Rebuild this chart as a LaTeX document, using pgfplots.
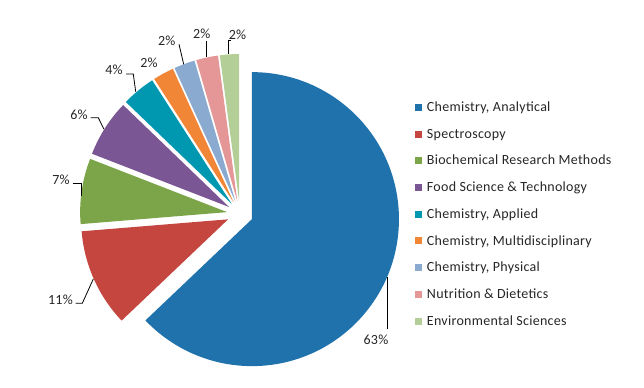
\documentclass[border=0pt]{standalone}
\usepackage{fontspec}
\setmainfont{Carlito}[LetterSpace=2]
\usepackage{pgfplots}
\pgfplotsset{compat=1.18}
\usepackage{pgfplotstable}

\definecolor{slice0}{HTML}{1F72AB}
\definecolor{slice1}{HTML}{C4463F}
\definecolor{slice2}{HTML}{7BA548}
\definecolor{slice3}{HTML}{7B5694}
\definecolor{slice4}{HTML}{0098B1}
\definecolor{slice5}{HTML}{F28637}
\definecolor{slice6}{HTML}{8AAACF}
\definecolor{slice7}{HTML}{E59696}
\definecolor{slice8}{HTML}{B3CE96}
\definecolor{txt}{HTML}{262626}

% share (percent), label position (pixels)
\pgfplotstableread[col sep=semicolon]{
name;value;lx;ly
Chemistry, Analytical;62.9;376;340
Spectroscopy;10.8;60.5;300
Biochemical Research Methods;7.2;61;180
Food Science \& Technology;6.3;79;115
Chemistry, Applied;3.7;114;69.5
Chemistry, Multidisciplinary;2.3;149;62.5
Chemistry, Physical;2.3;166.7;41
Nutrition \& Dietetics;2.4;201.7;33.5
Environmental Sciences;2.1;237.5;35
}\piedata

\newcommand\PieR{147}
\newcommand\PieD{13}
\newcommand\PieCx{240}
\newcommand\PieCy{214}

\begin{document}%
\begin{tikzpicture}
\gdef\total{0}
\foreach \i in {0,...,8}{%
  \pgfplotstablegetelem{\i}{value}\of\piedata
  \pgfmathsetmacro\t{\total+\pgfplotsretval}\xdef\total{\t}}
\gdef\cum{0}
\foreach \i in {0,...,8}{%
  \pgfplotstablegetelem{\i}{value}\of\piedata
  \pgfmathtruncatemacro\pct{round(\pgfplotsretval/\total*100)}
  \pgfmathsetmacro\ta{\cum/\total*360}
  \pgfmathsetmacro\newcum{\cum+\pgfplotsretval}
  \pgfmathsetmacro\tb{\newcum/\total*360}
  \pgfmathsetmacro\tm{(\ta+\tb)/2}
  \pgfmathsetmacro\ax{\PieCx+\PieD*sin(\tm)}
  \pgfmathsetmacro\ay{\PieCy-\PieD*cos(\tm)}
  \pgfmathsetmacro\sx{\ax+\PieR*sin(\ta)}
  \pgfmathsetmacro\sy{\ay-\PieR*cos(\ta)}
  \pgfmathsetmacro\pa{90-\ta}
  \pgfmathsetmacro\pb{90-\tb}
  \expandafter\xdef\csname ax\i\endcsname{\ax}%
  \expandafter\xdef\csname ay\i\endcsname{\ay}%
  \expandafter\xdef\csname sx\i\endcsname{\sx}%
  \expandafter\xdef\csname sy\i\endcsname{\sy}%
  \expandafter\xdef\csname pa\i\endcsname{\pa}%
  \expandafter\xdef\csname pb\i\endcsname{\pb}%
  \expandafter\xdef\csname pct\i\endcsname{\pct}%
  \pgfplotstablegetelem{\i}{lx}\of\piedata
  \expandafter\xdef\csname lx\i\endcsname{\pgfplotsretval}%
  \pgfplotstablegetelem{\i}{ly}\of\piedata
  \expandafter\xdef\csname ly\i\endcsname{\pgfplotsretval}%
  \pgfplotstablegetelem{\i}{name}\of\piedata
  \global\expandafter\let\csname nm\i\endcsname\pgfplotsretval
  \xdef\cum{\newcum}}
\begin{axis}[
  x=0.75pt, y=0.75pt,
  xmin=0, xmax=644, ymin=0, ymax=388,
  y dir=reverse,
  hide axis, clip=false,
]
\path (axis cs:0,0) rectangle (axis cs:644,388);
% slices
\pgfplotsinvokeforeach{0,...,8}{%
  \fill[slice#1] (axis cs:\csname ax#1\endcsname,\csname ay#1\endcsname)
    -- (axis cs:\csname sx#1\endcsname,\csname sy#1\endcsname)
    arc[start angle=\csname pa#1\endcsname, end angle=\csname pb#1\endcsname, radius=110.25pt]
    -- cycle;
}
% leader lines
\draw[black, line width=0.6pt] (axis cs:387.3,277.5) -- (axis cs:387.3,329.5);
\draw[black, line width=0.6pt] (axis cs:75.5,303.3) -- (axis cs:82.3,303.3) -- (axis cs:93.3,279);
\draw[black, line width=0.6pt] (axis cs:72.7,183) -- (axis cs:81,183) -- (axis cs:81,196);
\draw[black, line width=0.6pt] (axis cs:90.7,117.7) -- (axis cs:98.3,117.7) -- (axis cs:104,129.3);
\draw[black, line width=0.6pt] (axis cs:126,74) -- (axis cs:133.3,74) -- (axis cs:135.7,91.7);
\draw[black, line width=0.6pt] (axis cs:179,44.3) -- (axis cs:183.7,64.3);
\draw[black, line width=0.6pt] (axis cs:206.7,41) -- (axis cs:206.7,56.7);
\draw[black, line width=0.6pt] (axis cs:230.5,40) -- (axis cs:228.5,40) -- (axis cs:228.5,54.3);
% data labels
\pgfplotsinvokeforeach{0,...,8}{%
  \node[inner sep=0pt, anchor=center, text=txt, font=\fontsize{10.5}{12}\selectfont]
    at (axis cs:\csname lx#1\endcsname,\csname ly#1\endcsname) {\csname pct#1\endcsname\%};
}
% legend
\pgfplotsinvokeforeach{0,...,8}{%
  \fill[slice#1] (axis cs:415,{104+#1*26.7}) rectangle (axis cs:422,{111+#1*26.7});
  \node[inner sep=0pt, anchor=base west, text=txt, font=\fontsize{10.5}{12}\selectfont]
    at (axis cs:426.7,{111.6+#1*26.7}) {\csname nm#1\endcsname};
}
\end{axis}
\end{tikzpicture}%
\end{document}
